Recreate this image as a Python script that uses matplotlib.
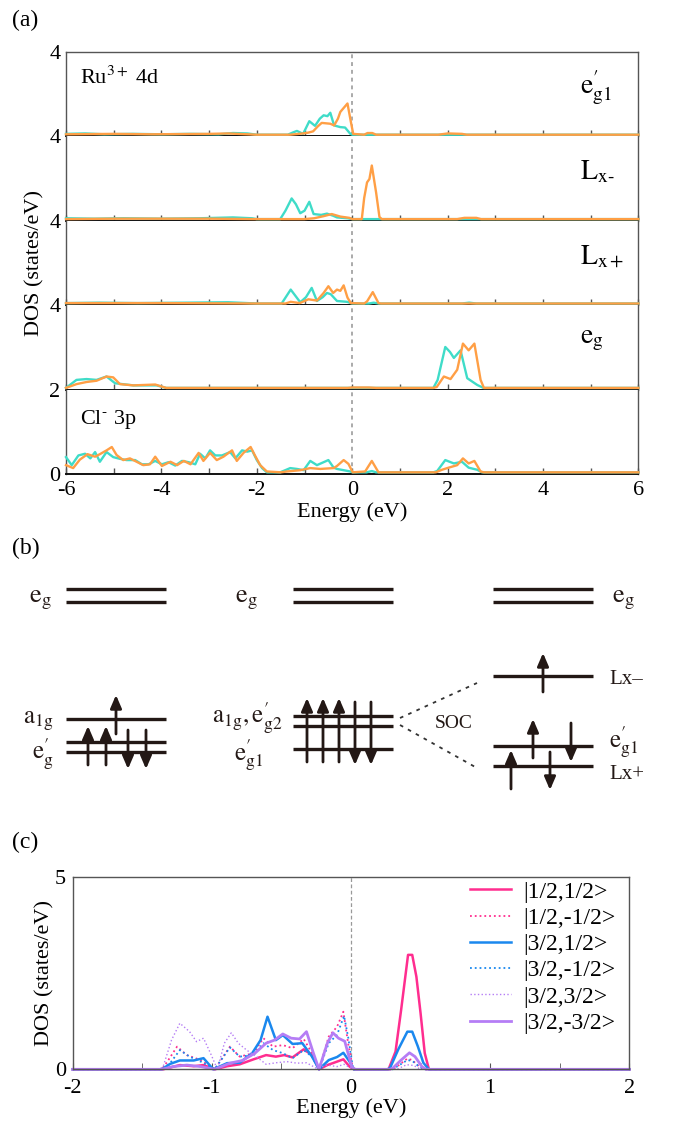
import numpy as np
import matplotlib
matplotlib.use('Agg')
import matplotlib.pyplot as plt
from matplotlib.ticker import MultipleLocator

plt.rcParams['font.family'] = ['Liberation Serif', 'DejaVu Serif']
plt.rcParams['mathtext.fontset'] = 'stix'
plt.rcParams['axes.unicode_minus'] = False

W, H = 675, 1123

# ---------------- panel (a) data: (energy, DOS) pairs ----------------
eg1_teal = [(-6, 0.02), (-5.6, 0.03), (-5.2, 0.01), (-4.6, 0.02), (-4.0, 0.01), (-3.4, 0.02),
            (-2.8, 0.01), (-2.5, 0.04), (-2.2, 0.03), (-2.0, 0.0), (-1.35, 0.0), (-1.25, 0.05),
            (-1.16, 0.09), (-1.03, 0.02), (-0.90, 0.32), (-0.78, 0.21), (-0.68, 0.38), (-0.60, 0.46),
            (-0.52, 0.44), (-0.46, 0.52), (-0.38, 0.22), (-0.25, 0.18), (-0.15, 0.17), (-0.04, 0.02),
            (0.0, 0.0), (6, 0.0)]
eg1_orange = [(-6, 0.01), (-5.0, 0.02), (-4.2, 0.01), (-3.0, 0.02), (-2.6, 0.03), (-2.0, 0.0),
              (-1.3, 0.0), (-1.03, 0.03), (-0.92, 0.05), (-0.82, 0.08), (-0.72, 0.2), (-0.64, 0.28),
              (-0.46, 0.26), (-0.38, 0.22), (-0.30, 0.38), (-0.25, 0.54), (-0.10, 0.74), (-0.03, 0.31),
              (0.02, 0.02), (0.25, 0.0), (0.32, 0.04), (0.42, 0.04), (0.5, 0.0), (1.8, 0.0),
              (2.0, 0.03), (2.3, 0.02), (2.4, 0.0), (6, 0.0)]
lxm_teal = [(-6, 0.02), (-5.4, 0.01), (-4.8, 0.02), (-4.0, 0.01), (-3.2, 0.02), (-2.5, 0.04),
            (-2.1, 0.02), (-2.0, 0.0), (-1.51, 0.0), (-1.40, 0.2), (-1.27, 0.49), (-1.18, 0.35),
            (-1.09, 0.14), (-1.0, 0.2), (-0.90, 0.41), (-0.81, 0.12), (-0.65, 0.1), (-0.53, 0.13),
            (-0.40, 0.08), (-0.32, 0.04), (-0.1, 0.02), (0.0, 0.0), (6, 0.0)]
lxm_orange = [(-6, 0.0), (-5.0, 0.01), (-3.0, 0.01), (-2.0, 0.0), (-1.0, 0.0), (-0.8, 0.02),
              (-0.6, 0.07), (-0.43, 0.12), (-0.25, 0.06), (-0.06, 0.03), (0.0, 0.0), (0.20, 0.0),
              (0.25, 0.5), (0.31, 0.87), (0.36, 0.95), (0.41, 1.27), (0.50, 0.63), (0.57, 0.05),
              (0.62, 0.0), (2.2, 0.0), (2.35, 0.03), (2.6, 0.03), (2.7, 0.0), (6, 0.0)]
lxp_teal = [(-6, 0.01), (-5.3, 0.02), (-4.5, 0.01), (-3.5, 0.02), (-2.6, 0.03), (-2.0, 0.0),
            (-1.48, 0.0), (-1.29, 0.33), (-1.09, 0.03), (-0.97, 0.15), (-0.85, 0.37), (-0.74, 0.06),
            (-0.62, 0.15), (-0.53, 0.25), (-0.45, 0.22), (-0.32, 0.06), (-0.11, 0.04), (0.0, 0.0),
            (0.35, 0.0), (0.45, 0.02), (0.55, 0.0), (2.3, 0.0), (2.45, 0.02), (2.6, 0.0), (6, 0.0)]
lxp_orange = [(-6, 0.01), (-4.0, 0.01), (-2.0, 0.0), (-1.40, 0.0), (-1.29, 0.04), (-1.1, 0.01),
              (-0.92, 0.1), (-0.74, 0.07), (-0.60, 0.25), (-0.50, 0.41), (-0.40, 0.25), (-0.32, 0.33),
              (-0.25, 0.30), (-0.18, 0.43), (-0.10, 0.14), (-0.03, 0.01), (0.25, 0.0), (0.31, 0.05),
              (0.43, 0.27), (0.55, 0.01), (0.6, 0.0), (6, 0.0)]
eg_teal = [(-6, 0.0), (-5.78, 0.19), (-5.57, 0.21), (-5.36, 0.19), (-5.15, 0.27), (-4.97, 0.11),
           (-4.59, 0.06), (-4.10, 0.06), (-3.9, 0.0), (1.70, 0.0), (1.79, 0.19), (1.95, 0.97),
           (2.05, 0.85), (2.13, 0.71), (2.27, 0.89), (2.41, 0.23), (2.62, 0.07), (2.75, 0.0), (6, 0.0)]
eg_orange = [(-6, 0.0), (-5.78, 0.09), (-5.57, 0.14), (-5.36, 0.17), (-5.15, 0.27), (-5.01, 0.25),
             (-4.87, 0.09), (-4.59, 0.06), (-4.13, 0.08), (-3.9, 0.0), (-0.1, 0.0), (0.0, 0.01),
             (0.35, 0.01), (0.5, 0.0), (1.7, 0.0), (1.77, 0.02), (1.92, 0.27), (2.06, 0.21),
             (2.20, 0.43), (2.32, 1.05), (2.44, 0.89), (2.56, 1.05), (2.69, 0.19), (2.76, 0.0), (6, 0.0)]
cl_teal = [(-6.0, 0.36), (-5.88, 0.17), (-5.74, 0.40), (-5.60, 0.44), (-5.49, 0.33), (-5.39, 0.48),
           (-5.29, 0.25), (-5.15, 0.48), (-5.01, 0.36), (-4.87, 0.32), (-4.73, 0.29), (-4.55, 0.29),
           (-4.41, 0.19), (-4.27, 0.19), (-4.13, 0.27), (-3.99, 0.19), (-3.85, 0.24), (-3.71, 0.16),
           (-3.57, 0.27), (-3.43, 0.24), (-3.29, 0.19), (-3.19, 0.44), (-3.08, 0.33), (-2.98, 0.52),
           (-2.87, 0.40), (-2.73, 0.40), (-2.56, 0.48), (-2.45, 0.33), (-2.31, 0.52), (-2.20, 0.49),
           (-2.10, 0.52), (-2.00, 0.29), (-1.89, 0.10), (-1.79, 0.0), (-1.51, 0.0), (-1.30, 0.10),
           (-1.16, 0.08), (-1.02, 0.05), (-0.88, 0.27), (-0.74, 0.17), (-0.50, 0.29), (-0.39, 0.11),
           (-0.32, 0.08), (-0.18, 0.05), (-0.04, 0.02), (0.0, 0.0), (0.3, 0.0), (0.41, 0.03),
           (0.5, 0.0), (1.70, 0.0), (1.78, 0.03), (1.95, 0.29), (2.13, 0.21), (2.30, 0.25),
           (2.44, 0.11), (2.62, 0.06), (2.72, 0.0), (6, 0.0)]
cl_orange = [(-6.0, 0.17), (-5.85, 0.10), (-5.71, 0.30), (-5.55, 0.43), (-5.39, 0.37), (-5.29, 0.43),
             (-5.15, 0.52), (-5.04, 0.60), (-4.94, 0.41), (-4.80, 0.29), (-4.66, 0.33), (-4.52, 0.25),
             (-4.38, 0.17), (-4.24, 0.19), (-4.13, 0.37), (-3.99, 0.15), (-3.81, 0.25), (-3.67, 0.17),
             (-3.53, 0.27), (-3.39, 0.19), (-3.22, 0.46), (-3.12, 0.27), (-2.98, 0.46), (-2.84, 0.29),
             (-2.70, 0.37), (-2.52, 0.52), (-2.42, 0.27), (-2.28, 0.46), (-2.13, 0.60), (-2.04, 0.40),
             (-1.93, 0.17), (-1.79, 0.02), (-1.5, 0.0), (-1.37, 0.02), (-1.09, 0.05), (-0.88, 0.10),
             (-0.67, 0.08), (-0.39, 0.10), (-0.32, 0.15), (-0.18, 0.29), (-0.08, 0.20), (0.01, 0.0),
             (0.27, 0.02), (0.41, 0.27), (0.55, 0.0), (1.75, 0.0), (1.88, 0.06), (2.02, 0.11),
             (2.20, 0.17), (2.32, 0.33), (2.44, 0.21), (2.56, 0.27), (2.69, 0.02), (2.76, 0.0), (6, 0.0)]

panel_a_series = [(eg1_teal, eg1_orange), (lxm_teal, lxm_orange), (lxp_teal, lxp_orange),
                  (eg_teal, eg_orange), (cl_teal, cl_orange)]
panel_a_names = [r'$\mathrm{e}^{\prime}_{\mathrm{g1}}$', r'$\mathrm{L}_{\mathrm{x\text{-}}}$',
                 r'$\mathrm{L}_{\mathrm{x+}}$', r'$\mathrm{e}_{\mathrm{g}}$', '']
panel_a_yticklabels = [['4', '4'], ['4'], ['4'], ['2'], ['0']]

# ---------------- panel (c) data ----------------
j_half_up = [(-2, 0), (-1.35, 0), (-1.23, 0.11), (-1.13, 0.08), (-1.06, 0.11), (-0.98, 0), (-0.89, 0.08),
             (-0.80, 0.13), (-0.70, 0.26), (-0.61, 0.37), (-0.54, 0.33), (-0.48, 0.37), (-0.42, 0.31),
             (-0.34, 0.52), (-0.28, 0.37), (-0.23, 0), (-0.17, 0.11), (-0.10, 0.2), (-0.055, 0.26),
             (-0.01, 0.07), (0.02, 0), (0.27, 0), (0.32, 0.46), (0.36, 1.54), (0.41, 2.98), (0.44, 2.98),
             (0.47, 2.41), (0.50, 1.46), (0.53, 0.42), (0.56, 0), (2, 0)]
j_half_dn = [(-2, 0), (-1.36, 0), (-1.32, 0.2), (-1.25, 0.59), (-1.18, 0.37), (-1.08, 0.24), (-0.98, 0),
             (-0.87, 0.59), (-0.80, 0.33), (-0.70, 0.42), (-0.63, 0.81), (-0.56, 0.59), (-0.49, 0.63),
             (-0.42, 0.55), (-0.34, 0.79), (-0.28, 0.42), (-0.23, 0), (-0.16, 0.85), (-0.10, 1.11),
             (-0.055, 1.5), (-0.02, 0.66), (0.015, 0), (0.30, 0), (0.33, 0.07), (0.405, 0.28),
             (0.44, 0.24), (0.49, 0.07), (0.53, 0), (2, 0)]
j32_half_up = [(-2, 0), (-1.36, 0), (-1.30, 0.14), (-1.23, 0.23), (-1.13, 0.23), (-1.06, 0.29), (-0.99, 0),
               (-0.89, 0.16), (-0.80, 0.17), (-0.71, 0.42), (-0.65, 0.76), (-0.60, 1.37), (-0.54, 0.76),
               (-0.49, 0.89), (-0.42, 0.66), (-0.35, 0.68), (-0.28, 0.33), (-0.23, 0), (-0.16, 0.24),
               (-0.10, 0.32), (-0.055, 0.43), (-0.01, 0.2), (0.02, 0), (0.26, 0), (0.28, 0.03),
               (0.34, 0.52), (0.405, 0.98), (0.44, 0.98), (0.48, 0.6), (0.52, 0.17), (0.56, 0), (2, 0)]
j32_half_dn = [(-2, 0), (-1.36, 0), (-1.30, 0.16), (-1.23, 0.50), (-1.16, 0.33), (-1.08, 0.2), (-0.98, 0),
               (-0.87, 0.57), (-0.80, 0.33), (-0.70, 0.37), (-0.63, 0.68), (-0.56, 0.5), (-0.49, 0.42),
               (-0.42, 0.29), (-0.34, 0.5), (-0.28, 0.33), (-0.23, 0), (-0.16, 0.68), (-0.10, 0.9),
               (-0.05, 1.39), (-0.02, 0.83), (0.015, 0), (0.30, 0), (0.33, 0.07), (0.405, 0.24),
               (0.44, 0.22), (0.49, 0.07), (0.53, 0), (2, 0)]
j32_3half_up = [(-2, 0), (-1.38, 0), (-1.35, 0.07), (-1.29, 0.76), (-1.23, 1.2), (-1.16, 0.98), (-1.11, 0.72),
                (-1.06, 0.81), (-1.01, 0.42), (-0.96, 0), (-0.91, 0.68), (-0.86, 0.95), (-0.81, 0.68),
                (-0.75, 0.5), (-0.68, 0.33), (-0.61, 0.13), (-0.54, 0.17), (-0.46, 0.2), (-0.39, 0.16),
                (-0.32, 0.17), (-0.25, 0.03), (-0.17, 0.11), (-0.10, 0.07), (-0.05, 0.13), (-0.01, 0.05),
                (0.02, 0), (0.33, 0), (0.40, 0.12), (0.45, 0.1), (0.50, 0), (2, 0)]
j32_3half_dn = [(-2, 0), (-1.36, 0), (-1.28, 0.07), (-1.18, 0.11), (-1.08, 0.07), (-0.98, 0), (-0.87, 0.16),
                (-0.78, 0.23), (-0.69, 0.42), (-0.61, 0.68), (-0.55, 0.76), (-0.49, 0.92), (-0.43, 0.81),
                (-0.37, 0.79), (-0.32, 0.98), (-0.27, 0.42), (-0.23, 0), (-0.17, 0.68), (-0.13, 0.95),
                (-0.09, 0.81), (-0.045, 0.73), (0.005, 0.07), (0.03, 0), (0.28, 0), (0.30, 0.03),
                (0.36, 0.24), (0.42, 0.43), (0.46, 0.33), (0.51, 0.07), (0.54, 0), (2, 0)]

panel_c_labels = ['|1/2,1/2>', '|1/2,-1/2>', '|3/2,1/2>', '|3/2,-1/2>', '|3/2,3/2>', '|3/2,-3/2>']
panel_c_series = [j_half_up, j_half_dn, j32_half_up, j32_half_dn, j32_3half_up, j32_3half_dn]

# ---------------- panel (b) schematic levels ----------------
eg_levels = [589, 602]
col_spans = [(66, 166), (293, 393), (493, 593)]
col1_levels = [719, 742, 752]
col2_levels = [716, 726, 749]
col3_levels = [676, 746, 766]
col1_arrows = [(116, 734, 695), (88, 765, 726), (106, 765, 726), (128, 730, 769), (146, 730, 769)]
col2_arrows = [(307, 762, 698), (323, 762, 698), (339, 762, 698), (355, 702, 765), (371, 702, 765)]
col3_arrows = [(543, 692, 653), (533, 758, 719), (571, 723, 762), (511, 789, 750), (550, 752, 790)]

TEAL = '#3fdcc8'
ORANGE = '#ff9f45'
INK = '#231815'
SPINE = '#555555'


def fbox(x0, y0, x1, y1):
    return [x0 / W, 1 - y1 / H, (x1 - x0) / W, (y1 - y0) / H]


def unzip(pairs):
    a = np.array(pairs, dtype=float)
    return a[:, 0], a[:, 1]


fig = plt.figure(figsize=(W / 100, H / 100), dpi=100)

# ---------------- (a) ----------------
top, step = 52, 84.4
for i, ((teal, orange), name, ylabs) in enumerate(zip(panel_a_series, panel_a_names, panel_a_yticklabels)):
    y0 = top + i * step
    ax = fig.add_axes(fbox(66, y0, 638.5, y0 + step))
    ax.set_xlim(-6, 6)
    ax.set_ylim(-0.04, 1.96)
    ax.axvline(0, color='#aaaaaa', ls=(0, (2, 2)), lw=1.4, zorder=1)
    e, v = unzip(teal)
    ax.plot(e, v, color=TEAL, lw=1.7, zorder=3, clip_on=False)
    e, v = unzip(orange)
    ax.plot(e, v, color=ORANGE, lw=1.7, zorder=4, clip_on=False)
    for s in ['left', 'right', 'top']:
        ax.spines[s].set_color(SPINE)
        ax.spines[s].set_linewidth(1.0)
    ax.spines['bottom'].set_color('#111111')
    ax.spines['bottom'].set_linewidth(1.4)
    if i > 0:
        ax.spines['top'].set_visible(False)
    ax.xaxis.set_major_locator(MultipleLocator(2))
    ax.xaxis.set_minor_locator(MultipleLocator(1))
    ax.tick_params(axis='x', which='both', direction='in', length=4, width=1, color=SPINE,
                   labelsize=16, pad=5)
    if i < 4:
        ax.tick_params(axis='x', labelbottom=False)
    yt = [-0.04, 1.96] if len(ylabs) == 2 else [-0.04]
    ax.set_yticks(yt)
    ax.set_yticklabels(ylabs)
    ax.tick_params(axis='y', length=0, labelsize=16, pad=4)
    if name:
        ax.text(0.898, 0.58, name, transform=ax.transAxes, fontsize=20, ha='left', va='center')

fig.text(80 / W, 1 - 84 / H, r'Ru$^{3+}$ 4d', fontsize=16, ha='left', va='baseline')
fig.text(80 / W, 1 - 424 / H, r'Cl$^{\text{-}}$ 3p', fontsize=16, ha='left', va='baseline')
fig.text(35 / W, 1 - 263 / H, 'DOS (states/eV)', fontsize=16, rotation=90, ha='center', va='center')
fig.text(352 / W, 1 - 512 / H, 'Energy (eV)', fontsize=16, ha='center', va='center')
fig.text(12 / W, 1 - 20 / H, '(a)', fontsize=17, ha='left', va='center')

# ---------------- (b) ----------------
fig.text(12 / W, 1 - 548 / H, '(b)', fontsize=17, ha='left', va='center')
axb = fig.add_axes([0, 0, 1, 1], zorder=-1)
axb.set_xlim(0, W)
axb.set_ylim(H, 0)
axb.axis('off')

for (xa, xb) in col_spans:
    for y in eg_levels:
        axb.plot([xa, xb], [y, y], color=INK, lw=2.4, solid_capstyle='butt')
for (xa, xb), levels in zip(col_spans, [col1_levels, col2_levels, col3_levels]):
    for y in levels:
        axb.plot([xa, xb], [y, y], color=INK, lw=2.4, solid_capstyle='butt')
for arrows in [col1_arrows, col2_arrows, col3_arrows]:
    for x, yt_, yh in arrows:
        axb.annotate('', xy=(x, yh), xytext=(x, yt_),
                     arrowprops=dict(arrowstyle='-|>,head_length=0.65,head_width=0.28',
                                     color=INK, lw=2.0, mutation_scale=12, shrinkA=0, shrinkB=0))
axb.plot([400, 477], [718, 683], color='#333333', lw=1.3, ls=(0, (2, 3)))
axb.plot([400, 477], [725, 768], color='#333333', lw=1.3, ls=(0, (2, 3)))
axb.text(454, 728, 'SOC', fontsize=14, ha='center', va='baseline', color=INK)

axb.text(52, 602, r'$\mathrm{e}_{\mathrm{g}}$', fontsize=19, ha='right', va='baseline', color=INK)
axb.text(258, 602, r'$\mathrm{e}_{\mathrm{g}}$', fontsize=19, ha='right', va='baseline', color=INK)
axb.text(612, 602, r'$\mathrm{e}_{\mathrm{g}}$', fontsize=19, ha='left', va='baseline', color=INK)
axb.text(54, 724, r'$\mathrm{a}_{\mathrm{1g}}$', fontsize=18, ha='right', va='baseline', color=INK)
axb.text(54, 759, r'$\mathrm{e}^{\prime}_{\mathrm{g}}$', fontsize=18, ha='right', va='baseline', color=INK)
axb.text(283, 723, r'$\mathrm{a}_{\mathrm{1g}},\mathrm{e}^{\prime}_{\mathrm{g2}}$', fontsize=18,
         ha='right', va='baseline', color=INK)
axb.text(263, 760, r'$\mathrm{e}^{\prime}_{\mathrm{g1}}$', fontsize=18, ha='right', va='baseline', color=INK)
axb.text(609, 684, 'Lx\u2013', fontsize=15, ha='left', va='baseline', color=INK)
axb.text(609, 747, r'$\mathrm{e}^{\prime}_{\mathrm{g1}}$', fontsize=18, ha='left', va='baseline', color=INK)
axb.text(609, 779, 'Lx+', fontsize=15, ha='left', va='baseline', color=INK)

# ---------------- (c) ----------------
fig.text(12 / W, 1 - 842 / H, '(c)', fontsize=17, ha='left', va='center')
axc = fig.add_axes(fbox(72.7, 877.3, 629.3, 1069.3))
axc.set_xlim(-2, 2)
axc.set_ylim(0, 5)
axc.axvline(0, color='#999999', ls=(0, (3, 2)), lw=0.9, zorder=1)
styles = [('#ff2d8f', '-', 1.8), ('#ff2d8f', ':', 1.3), ('#1a88ee', '-', 1.8),
          ('#1a88ee', ':', 1.3), ('#b57df5', ':', 1.0), ('#b57df5', '-', 2.0)]
for data, lab, (c, ls, lw) in zip(panel_c_series, panel_c_labels, styles):
    e, v = unzip(data)
    axc.plot(e, v, color=c, ls=ls, lw=lw, label=lab, clip_on=False)
for s in axc.spines.values():
    s.set_color(SPINE)
    s.set_linewidth(1.0)
axc.set_xticks([-2, -1, 0, 1, 2])
axc.xaxis.set_minor_locator(MultipleLocator(0.5))
axc.tick_params(axis='x', which='both', direction='in', length=4, color=SPINE, labelsize=16, pad=7)
axc.set_yticks([0, 5])
axc.tick_params(axis='y', length=0, labelsize=16, pad=5)
axc.legend(loc='upper left', bbox_to_anchor=(470 / W, 1 - 881 / H), bbox_transform=fig.transFigure,
           frameon=False, fontsize=17, handlelength=1.75, handletextpad=0.5, labelspacing=0.2,
           borderpad=0, borderaxespad=0)
fig.text(45 / W, 1 - 973 / H, 'DOS (states/eV)', fontsize=16, rotation=90, ha='center', va='center')
fig.text(351 / W, 1 - 1108 / H, 'Energy (eV)', fontsize=16, ha='center', va='center')

fig.savefig('out.png', dpi=100)
